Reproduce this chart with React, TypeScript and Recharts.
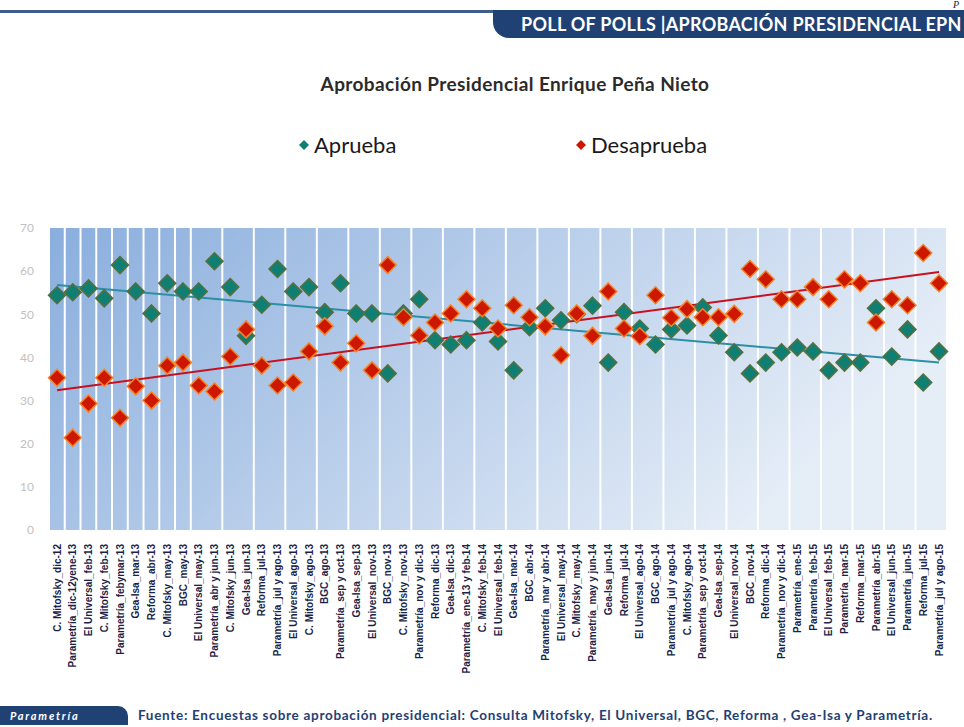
import React from 'react';
import { CartesianGrid, ComposedChart, Legend, Line, XAxis, YAxis } from 'recharts';

const encuestas = [
  'C. Mitofsky_dic-12', 'Parametría_dic-12yene-13', 'El Universal_feb-13', 'C. Mitofsky_feb-13',
  'Parametría_febymar-13', 'Gea-Isa_mar-13', 'Reforma_abr-13', 'C. Mitofsky_may-13', 'BGC_may-13',
  'El Universal_may-13', 'Parametría_abr y jun-13', 'C. Mitofsky_jun-13', 'Gea-Isa_jun-13',
  'Reforma_jul-13', 'Parametría_jul y ago-13', 'El Universal_ago-13', 'C. Mitofsky_ago-13',
  'BGC_ago-13', 'Parametría_sep y oct-13', 'Gea-Isa_sep-13', 'El Universal_nov-13', 'BGC_nov-13',
  'C. Mitofsky_nov-13', 'Parametría_nov y dic-13', 'Reforma_dic-13', 'Gea-Isa_dic-13',
  'Parametría_ene-13 y feb-14', 'C. Mitofsky_feb-14', 'El Universal_feb-14', 'Gea-Isa_mar-14',
  'BGC_abr-14', 'Parametría_mar y abr-14', 'El Universal_may-14', 'C. Mitofsky_may-14',
  'Parametría_may y jun-14', 'Gea-Isa_jun-14', 'Reforma_jul-14', 'El Universal_ago-14', 'BGC_ago-14',
  'Parametría_jul y ago-14', 'C. Mitofsky_ago-14', 'Parametría_sep y oct-14', 'Gea-Isa_sep-14',
  'El Universal_nov-14', 'BGC_nov-14', 'Reforma_dic-14', 'Parametría_nov y dic-14',
  'Parametría_ene-15', 'Parametría_feb-15', 'El Universal_feb-15', 'Parametría_mar-15',
  'Reforma_mar-15', 'Parametría_abr-15', 'El Universal_jun-15', 'Parametría_jun-15',
  'Reforma_jul-15', 'Parametría_jul y ago-15',
];

const aprueba = [
  54.4, 55.1, 56, 53.7, 61.4, 55.3, 50.2, 57.2, 55.3, 55.3, 62.3, 56.3, 45, 52.2, 60.5, 55.3, 56.3,
  50.5, 57.2, 50.2, 50.2, 36.3, 50.2, 53.5, 44, 43, 44, 48.1, 43.7, 37, 47, 51.4, 48.6, 50, 52,
  38.8, 50.5, 46.7, 43, 46.5, 47.4, 51.6, 45.1, 41.2, 36.3, 38.8, 41.2, 42.3, 41.4, 37, 38.8, 38.8,
  51.4, 40.2, 46.5, 34.2, 41.4,
];

const desaprueba = [
  35.3, 21.4, 29.3, 35.3, 26, 33.3, 30, 38.1, 38.8, 33.5, 32.1, 40.2, 46.5, 38.1, 33.5, 34.2, 41.4,
  47.2, 38.8, 43.3, 37, 61.4, 49.3, 45.1, 48.1, 50.2, 53.5, 51.4, 46.7, 52.1, 49.3, 47.2, 40.5, 50.2,
  45, 55.3, 46.7, 44.9, 54.4, 49.2, 51.2, 49.3, 49.3, 50.1, 60.5, 58.1, 53.5, 53.5, 56.3, 53.5, 58.1,
  57.2, 48.1, 53.5, 52.1, 64.2, 57.2,
];

// tendencia lineal: valor al inicio y al final del periodo
const tendenciaAprueba = [56.8, 38.8];
const tendenciaDesaprueba = [32.4, 59.8];

const yTicks = [0, 10, 20, 30, 40, 50, 60, 70];
const bordes = encuestas.map((_, i) => i).concat(encuestas.length);

const ultimo = encuestas.length - 1;
const datos = encuestas.map((encuesta, i) => ({
  encuesta,
  pos: i,
  aprueba: aprueba[i],
  desaprueba: desaprueba[i],
  tendA: i === 0 ? tendenciaAprueba[0] : i === ultimo ? tendenciaAprueba[1] : null,
  tendD: i === 0 ? tendenciaDesaprueba[0] : i === ultimo ? tendenciaDesaprueba[1] : null,
}));

const VERDE = '#0f7f74';
const ROJO = '#cc1800';
const NAVY = '#1f4174';

const diamante = (fill: string, stroke: string) => (props: any) => {
  const { cx, cy, index } = props;
  if (cx == null || cy == null) return <g key={index} />;
  const r = 8.5;
  return (
    <path
      key={index}
      d={`M${cx},${cy - r}L${cx + r},${cy}L${cx},${cy + r}L${cx - r},${cy}Z`}
      fill={fill}
      stroke={stroke}
      strokeWidth={1.5}
    />
  );
};

const TickEncuesta = ({ x, y, payload }: any) => (
  <text
    x={x}
    y={y + 6}
    dy="0.35em"
    transform={`rotate(-90 ${x} ${y + 6})`}
    textAnchor="end"
    fontSize={10}
    fontWeight="bold"
    fontFamily="'Liberation Sans Narrow', 'Liberation Sans', sans-serif"
    fill="#1b1f4a"
  >
    {payload.value}
  </text>
);

const Leyenda = ({ payload }: any) => {
  const items = (payload || []).filter((p: any) => p.dataKey === 'aprueba' || p.dataKey === 'desaprueba');
  const izquierda: Record<string, number> = { aprueba: 297, desaprueba: 574 };
  return (
    <div style={{ position: 'relative', height: 30, fontFamily: 'Lato, sans-serif' }}>
      {items.map((p: any) => (
        <div key={p.dataKey} style={{ position: 'absolute', left: izquierda[p.dataKey], top: 0, display: 'flex', alignItems: 'center' }}>
          <svg width={14} height={14}>
            <path d="M7,2L12,7L7,12L2,7Z" fill={p.color} />
          </svg>
          <span style={{ fontSize: 22, color: '#1a1a1a', marginLeft: 3 }}>{p.value}</span>
        </div>
      ))}
    </div>
  );
};

export default function App() {
  return (
    <div style={{ position: 'absolute', left: 0, top: 0, width: 964, height: 727, background: '#fff', overflow: 'hidden' }}>
      <div style={{ position: 'absolute', left: 0, top: 10, width: 500, height: 3, background: NAVY, opacity: 0.85 }} />
      <div
        style={{
          position: 'absolute', left: 493, top: 10, width: 480, height: 28, background: NAVY,
          borderBottomLeftRadius: 16, color: '#fff', fontFamily: 'Lato, sans-serif', fontWeight: 700,
          fontSize: 18, letterSpacing: 0.3, lineHeight: '28px', paddingLeft: 28, boxSizing: 'border-box', whiteSpace: 'nowrap',
        }}
      >
        POLL OF POLLS |APROBACIÓN PRESIDENCIAL EPN
      </div>
      <div style={{ position: 'absolute', right: 5, top: 0, fontFamily: "'Liberation Serif', serif", fontStyle: 'italic', fontSize: 10, lineHeight: '10px', color: '#222' }}>
        P
      </div>
      <div
        style={{
          position: 'absolute', left: 0, top: 72, width: 1030, textAlign: 'center',
          fontFamily: 'Lato, sans-serif', fontWeight: 700, fontSize: 19, letterSpacing: 0.4, color: '#2b2b2b',
        }}
      >
        Aprobación Presidencial Enrique Peña Nieto
      </div>

      <ComposedChart width={964} height={727} data={datos} margin={{ top: 228, right: 17, left: 9, bottom: 47 }}>
        <defs>
          <linearGradient id="fondoPlot" x1="0" y1="0" x2="1" y2="0.35">
            <stop offset="0" stopColor="#8aaedd" />
            <stop offset="1" stopColor="#e5edf7" />
          </linearGradient>
        </defs>
        <XAxis xAxisId="grid" type="number" dataKey="pos" domain={[0, encuestas.length]} ticks={bordes} hide allowDataOverflow />
        <CartesianGrid xAxisId="grid" horizontal={false} stroke="#ffffff" strokeWidth={2} fill="url(#fondoPlot)" />
        <XAxis
          dataKey="encuesta"
          interval={0}
          height={150}
          padding={{ left: 8, right: 8 }}
          axisLine={false}
          tickLine={false}
          tick={<TickEncuesta />}
        />
        <YAxis
          width={40}
          domain={[0, 70]}
          ticks={yTicks}
          interval={0}
          axisLine={false}
          tickLine={false}
          tickMargin={9}
          tick={{ fill: '#c4c0bb', fontSize: 12, fontFamily: 'Lato, sans-serif' }}
        />
        <Legend verticalAlign="middle" align="center" layout="horizontal" content={<Leyenda />} wrapperStyle={{ top: 131, left: 0, width: 964, height: 30 }} />
        <Line
          dataKey="aprueba"
          name="Aprueba"
          stroke={VERDE}
          strokeWidth={0}
          dot={diamante(VERDE, '#55703c')}
          activeDot={false}
          isAnimationActive={false}
        />
        <Line
          dataKey="desaprueba"
          name="Desaprueba"
          stroke={ROJO}
          strokeWidth={0}
          dot={diamante(ROJO, '#f3832a')}
          activeDot={false}
          isAnimationActive={false}
        />
        <Line dataKey="tendA" stroke="#2b8fa6" strokeWidth={2} dot={false} connectNulls legendType="none" activeDot={false} isAnimationActive={false} />
        <Line dataKey="tendD" stroke="#c8101e" strokeWidth={2} dot={false} connectNulls legendType="none" activeDot={false} isAnimationActive={false} />
      </ComposedChart>

      <div
        style={{
          position: 'absolute', left: 0, top: 706, width: 128, height: 19, background: NAVY,
          borderTopRightRadius: 10, color: '#fff', fontFamily: 'Lato, sans-serif', fontStyle: 'italic',
          fontWeight: 700, fontSize: 11, letterSpacing: 1.8, lineHeight: '19px', paddingLeft: 10, boxSizing: 'border-box',
        }}
      >
        Parametría
      </div>
      <div style={{ position: 'absolute', left: 138, top: 707, fontFamily: 'Lato, sans-serif', fontWeight: 700, fontSize: 13.5, letterSpacing: 0.7, color: NAVY, whiteSpace: 'nowrap' }}>
        Fuente: Encuestas sobre aprobación presidencial: Consulta Mitofsky, El Universal, BGC, Reforma , Gea-Isa y Parametría.
      </div>
    </div>
  );
}
